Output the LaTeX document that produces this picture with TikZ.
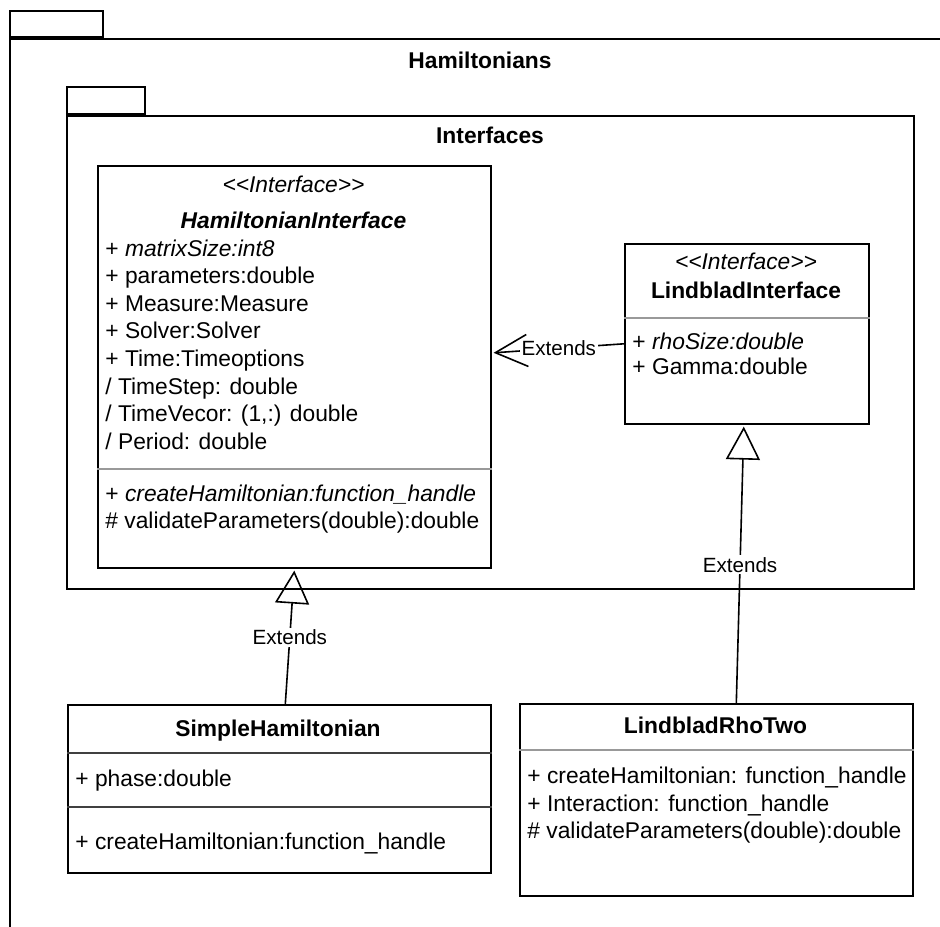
\documentclass[tikz,border=0pt]{standalone}
\usepackage{fontspec}
\setmainfont{Liberation Sans}
\usetikzlibrary{arrows.meta, positioning}

\newcommand{\stereotxt}{<\kern0pt<Interface>\kern0pt>}

\begin{document}
\begin{tikzpicture}[x=0.5pt, y=-0.5pt,
    font=\fontsize{11.4}{13.8}\selectfont,
    pkg/.style={draw, line width=1pt, inner sep=0pt, anchor=north west},
    classbox/.style={draw, line width=0.8pt, fill=white, inner sep=0pt, anchor=north west},
    sepline/.style={draw=black!40, line width=0.8pt},
    pkgtitle/.style={font=\fontsize{11.4}{13.8}\selectfont\bfseries, anchor=base},
    stereo/.style={font=\fontsize{11.4}{13.8}\selectfont\itshape, anchor=base},
    member/.style={anchor=base west, inner sep=0pt},
    extends/.style={line width=0.8pt, -{Triangle[open, length=16.5pt, width=17pt]}},
    openext/.style={line width=0.8pt, -{Straight Barb[length=16pt, width=16pt]}},
    lbl/.style={fill=white, inner sep=1pt, font=\fontsize{10.3}{12}\selectfont}
]
    \useasboundingbox (0,0) rectangle (940,926);

    % Package Hamiltonians
    \node[pkg, minimum width=478pt, minimum height=458.5pt] (hampkg) at (9,38) {};
    \node[pkg, anchor=south west, minimum width=46.5pt, minimum height=13pt] (hamtab) at (hampkg.north west) {};
    \node[pkgtitle] (hamtitle) at (480,68) {Hamiltonians};

    % Package Interfaces
    \node[pkg, minimum width=423.5pt, minimum height=236.5pt] (ifpkg) at (66,115) {};
    \node[pkg, anchor=south west, minimum width=39pt, minimum height=13.5pt] (iftab) at (ifpkg.north west) {};
    \node[pkgtitle] (iftitle) at (490,143) {Interfaces};

    % HamiltonianInterface
    \node[classbox, minimum width=196.5pt, minimum height=201pt] (hamif) at (97,165) {};
    \node[stereo] (hamster) at (293.5,192) {\stereotxt};
    \node[pkgtitle, font=\fontsize{11.4}{13.8}\selectfont\bfseries\itshape] (hamname) at (293.5,228) {HamiltonianInterface};
    \foreach \m [count=\i from 0] in {%
        {+ \textit{matrixSize:int8}}, {+ parameters:double}, {+ Measure:Measure},
        {+ Solver:Solver}, {+ Time:Timeoptions}, {/ TimeStep: double},
        {/ TimeVecor: (1,:) double}, {/ Period: double}} {
        \node[member] (hatt\i) at (105, {256+27.6*\i}) {\m};
    }
    \draw[sepline] (hamif.west |- 0,469) -- (hamif.east |- 0,469);
    \node[member] (hop0) at (105,501) {+ \textit{createHamiltonian:function\_handle}};
    \node[member] (hop1) at (105,528) {\# validateParameters(double):double};

    % LindbladInterface
    \node[classbox, minimum width=122pt, minimum height=90pt] (lindif) at (624,243) {};
    \node[stereo] (lindster) at (746,269) {\stereotxt};
    \node[pkgtitle] (lindname) at (746,298) {LindbladInterface};
    \draw[sepline] (lindif.west |- 0,318) -- (lindif.east |- 0,318);
    \node[member] (latt0) at (632,349) {+ \textit{rhoSize:double}};
    \node[member] (latt1) at (632,374) {+ Gamma:double};

    % SimpleHamiltonian
    \node[classbox, minimum width=211.5pt, minimum height=84pt] (simple) at (67,704) {};
    \node[pkgtitle] (simplename) at (278,736) {SimpleHamiltonian};
    \draw[line width=0.8pt, black!75] (simple.west |- 0,753) -- (simple.east |- 0,753);
    \node[member] (satt0) at (75,786) {+ phase:double};
    \draw[line width=0.8pt, black!75] (simple.west |- 0,807) -- (simple.east |- 0,807);
    \node[member] (sop0) at (75,849) {+ createHamiltonian:function\_handle};

    % LindbladRhoTwo
    \node[classbox, minimum width=196.5pt, minimum height=96pt] (rhotwo) at (519,703) {};
    \node[pkgtitle] (rhoname) at (715.5,733) {LindbladRhoTwo};
    \draw[sepline] (rhotwo.west |- 0,750) -- (rhotwo.east |- 0,750);
    \node[member] (rop0) at (527,783) {+ createHamiltonian: function\_handle};
    \node[member] (rop1) at (527,811) {+ Interaction: function\_handle};
    \node[member] (rop2) at (527,838) {\# validateParameters(double):double};

    % Extends
    \draw[openext] ([yshift=-5pt]lindif.west) -- ([yshift=7pt,xshift=1pt]hamif.east)
        node[lbl, midway] (ext1) {Extends};
    \draw[extends] ([xshift=3pt]simple.north) -- ([yshift=-1pt]hamif.south)
        node[lbl, midway] (ext2) {Extends};
    \draw[extends] ([xshift=10pt]rhotwo.north) -- ([xshift=-1.5pt,yshift=-1pt]lindif.south)
        node[lbl, midway] (ext3) {Extends};
\end{tikzpicture}
\end{document}
